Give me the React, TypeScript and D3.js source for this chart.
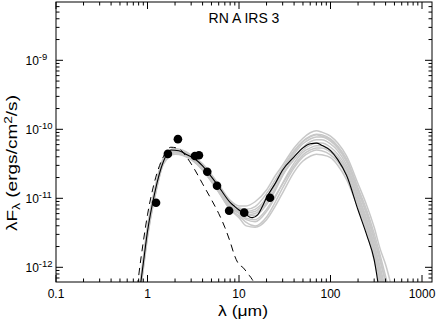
import React from "react";
import * as d3 from "d3";

// ---------------- data ----------------
const xTickValues = [0.1, 1, 10, 100, 1000];
const xTickLabels = ["0.1", "1", "10", "100", "1000"];
const yTickExponents = [-12, -11, -10, -9];
const yTickLabels = ["-12", "-11", "-10", "-9"];

// observed photometry (λ in µm, λFλ in ergs/cm²/s)
const obsLambda = [1.24, 1.67, 2.15, 3.3, 3.65, 4.5, 5.75, 7.8, 11.4, 21.8];
const obsFlux = [8.6e-12, 4.4e-11, 7.2e-11, 4.1e-11, 4.2e-11, 2.42e-11, 1.52e-11, 6.6e-12, 6.2e-12, 1.02e-11];

// best fit model (log10 λFλ)
const bestFitLambda = [0.8, 0.9, 1.0, 1.2, 1.5, 1.8, 2.2, 2.7, 3.3, 4, 5, 6, 7, 8, 9, 10, 11, 12, 13, 14, 16, 18, 20, 25, 30, 40, 50, 60, 70, 80, 100, 120, 150, 200, 250, 300, 350];
const bestFitLogFlux = [-12.46, -11.94, -11.48, -10.92, -10.46, -10.30, -10.31, -10.37, -10.43, -10.53, -10.69, -10.83, -10.96, -11.06, -11.12, -11.17, -11.21, -11.24, -11.27, -11.28, -11.24, -11.12, -10.99, -10.78, -10.59, -10.40, -10.27, -10.21, -10.20, -10.23, -10.31, -10.44, -10.67, -11.17, -11.54, -11.89, -12.46];

// stellar photosphere (dashed), log10 λFλ
const photoLambda = [0.75, 0.8, 0.9, 1.0, 1.2, 1.5, 1.8, 2.2, 2.7, 3.3, 4, 5, 6, 7, 8, 9, 10, 11, 12, 13, 14, 16];
const photoLogFlux = [-12.46, -12.13, -11.63, -11.24, -10.75, -10.39, -10.26, -10.28, -10.41, -10.59, -10.79, -11.02, -11.22, -11.42, -11.63, -11.84, -11.96, -12.00, -12.06, -12.12, -12.18, -12.35];

// other good fits (grey), log10 λFλ on a common grid
const gridLambda = [0.8, 0.9, 1.0, 1.2, 1.5, 2, 3, 4, 6, 8, 10, 12, 15, 20, 25, 30, 40, 50, 60, 70, 80, 100, 120, 150, 200, 250, 300, 350, 400, 500];
const grayFit1 = [-12.41, -11.86, -11.40, -10.86, -10.41, -10.28, -10.37, -10.50, -10.80, -11.03, -11.11, -11.11, -11.05, -10.88, -10.67, -10.52, -10.27, -10.13, -10.05, -10.02, -10.04, -10.10, -10.20, -10.39, -10.79, -11.11, -11.42, -11.74, -11.96, -12.46];
const grayFit2 = [-12.49, -11.97, -11.51, -10.95, -10.47, -10.33, -10.41, -10.56, -10.86, -11.09, -11.14, -11.16, -11.12, -10.93, -10.73, -10.56, -10.31, -10.17, -10.10, -10.07, -10.08, -10.14, -10.24, -10.43, -10.85, -11.18, -11.51, -11.83, -12.13, -12.72];
const grayFit3 = [-12.43, -11.92, -11.45, -10.90, -10.44, -10.30, -10.39, -10.53, -10.85, -11.09, -11.16, -11.21, -11.19, -11.02, -10.80, -10.62, -10.36, -10.21, -10.14, -10.11, -10.11, -10.17, -10.27, -10.47, -10.90, -11.25, -11.60, -11.92, -12.23, -12.82];
const grayFit4 = [-12.52, -12.00, -11.54, -10.98, -10.49, -10.34, -10.43, -10.57, -10.88, -11.12, -11.19, -11.25, -11.25, -11.09, -10.88, -10.67, -10.40, -10.26, -10.18, -10.15, -10.15, -10.21, -10.31, -10.52, -10.95, -11.31, -11.66, -12.00, -12.32, -12.90];
const grayFit5 = [-12.46, -11.94, -11.48, -10.93, -10.46, -10.31, -10.41, -10.56, -10.88, -11.14, -11.22, -11.31, -11.34, -11.19, -10.98, -10.78, -10.49, -10.33, -10.27, -10.24, -10.24, -10.30, -10.40, -10.59, -11.02, -11.38, -11.74, -12.10, -12.43, -13.04];
const grayFit6 = [-12.55, -12.03, -11.57, -10.99, -10.50, -10.36, -10.44, -10.59, -10.91, -11.16, -11.25, -11.35, -11.40, -11.27, -11.05, -10.85, -10.56, -10.40, -10.33, -10.30, -10.31, -10.37, -10.47, -10.67, -11.09, -11.45, -11.83, -12.20, -12.54, -13.11];
const grayFit7 = [-12.45, -11.93, -11.47, -10.92, -10.46, -10.33, -10.43, -10.59, -10.91, -11.16, -11.28, -11.40, -11.42, -11.31, -11.11, -10.92, -10.62, -10.46, -10.39, -10.36, -10.37, -10.41, -10.52, -10.73, -11.14, -11.51, -11.89, -12.29, -12.61, -13.18];
const grayFit8 = [-12.48, -11.96, -11.50, -10.93, -10.46, -10.31, -10.40, -10.54, -10.85, -11.08, -11.15, -11.19, -11.16, -10.99, -10.78, -10.59, -10.33, -10.18, -10.11, -10.08, -10.10, -10.15, -10.26, -10.46, -10.88, -11.22, -11.57, -11.89, -12.20, -12.78];
const grayFit9 = [-12.42, -11.90, -11.44, -10.89, -10.43, -10.30, -10.39, -10.53, -10.86, -11.11, -11.18, -11.24, -11.22, -11.06, -10.85, -10.66, -10.44, -10.30, -10.23, -10.20, -10.20, -10.26, -10.36, -10.56, -10.98, -11.34, -11.70, -12.06, -12.39, -12.97];
const grayFit10 = [-12.51, -11.99, -11.53, -10.96, -10.47, -10.34, -10.43, -10.57, -10.89, -11.14, -11.21, -11.29, -11.31, -11.16, -10.96, -10.79, -10.53, -10.37, -10.30, -10.27, -10.27, -10.33, -10.43, -10.63, -11.06, -11.42, -11.79, -12.15, -12.49, -13.07];
const grayFits = [grayFit1, grayFit2, grayFit3, grayFit4, grayFit5, grayFit6, grayFit7, grayFit8, grayFit9, grayFit10];

const titleText = "RN A IRS 3";

// ---------------- chart ----------------
const W = 436;
const H = 322;
const L = 56, R = 432, T = 2, B = 282;
const FONT = "'Liberation Sans', Arial, Helvetica, sans-serif";

export default function App() {
  const x = d3.scaleLog().domain([0.1, 1286]).range([L, R]);
  const y = d3.scaleLog().domain([Math.pow(10, -12.213), Math.pow(10, -8.155)]).range([B, T]);

  const line = d3
    .line<[number, number]>()
    .x((d) => x(d[0]))
    .y((d) => y(Math.pow(10, d[1])))
    .curve(d3.curveMonotoneX);

  const zip = (a: number[], b: number[]) => a.map((v, i) => [v, b[i]] as [number, number]);

  const [xd0, xd1] = x.domain();
  const xTicks: { v: number; major: boolean }[] = [];
  for (let e = -1; e <= 3; e++)
    for (let k = 1; k <= 9; k++) {
      const v = k * Math.pow(10, e);
      if (v >= xd0 * 0.9999 && v <= xd1) xTicks.push({ v, major: k === 1 });
    }
  const [yd0, yd1] = y.domain();
  const yTicks: { v: number; major: boolean }[] = [];
  for (let e = -13; e <= -9; e++)
    for (let k = 1; k <= 9; k++) {
      const v = k * Math.pow(10, e);
      if (v >= yd0 && v <= yd1) yTicks.push({ v, major: k === 1 });
    }

  const maj = 7;
  const min = 3.5;

  return (
    <svg width={W} height={H} style={{ position: "absolute", left: 0, top: 0, background: "#fff" }} fontFamily={FONT}>
      <defs>
        <clipPath id="plotclip">
          <rect x={L} y={T} width={R - L} height={B - T} />
        </clipPath>
      </defs>
      <rect x={0} y={0} width={W} height={H} fill="#fff" />
      <g clipPath="url(#plotclip)">
        {grayFits.map((g, i) => (
          <path key={i} d={line(zip(gridLambda, g)) || ""} fill="none" stroke="#c8c8c8" strokeWidth={1.5} />
        ))}
        <path d={line(zip(bestFitLambda, bestFitLogFlux)) || ""} fill="none" stroke="#000" strokeWidth={1.1} />
        <path d={line(zip(photoLambda, photoLogFlux)) || ""} fill="none" stroke="#000" strokeWidth={1} strokeDasharray="7,5" />
      </g>
      {obsLambda.map((l, i) => (
        <circle key={i} cx={x(l)} cy={y(obsFlux[i])} r={4.3} fill="#000" />
      ))}
      {/* frame */}
      <rect x={L} y={T} width={R - L} height={B - T} fill="none" stroke="#000" strokeWidth={1} />
      {/* x ticks bottom & top */}
      {xTicks.map((t, i) => {
        const px = x(t.v);
        const len = t.major ? maj : min;
        return (
          <g key={"xt" + i} stroke="#000" strokeWidth={1}>
            <line x1={px} x2={px} y1={B} y2={B - len} />
            <line x1={px} x2={px} y1={T} y2={T + len} />
          </g>
        );
      })}
      {yTicks.map((t, i) => {
        const py = y(t.v);
        const len = t.major ? maj : min;
        return (
          <g key={"yt" + i} stroke="#000" strokeWidth={1}>
            <line x1={L} x2={L + len} y1={py} y2={py} />
            <line x1={R} x2={R - len} y1={py} y2={py} />
          </g>
        );
      })}
      {xTickValues.map((v, i) => (
        <text key={"xl" + i} x={x(v)} y={298} fontSize={12} textAnchor="middle" fill="#000">
          {xTickLabels[i]}
        </text>
      ))}
      {yTickExponents.map((e, i) => (
        <text key={"yl" + i} x={25.5} y={y(Math.pow(10, e)) + 4.5} fontSize={12} fill="#000">
          10
          <tspan dy={-5} fontSize={9.5}>
            {yTickLabels[i]}
          </tspan>
        </text>
      ))}
      <text x={244} y={23} fontSize={14} textAnchor="middle" fill="#000">
        {titleText}
      </text>
      <text x={243} y={316} fontSize={14} textAnchor="middle" fill="#000" textLength={50} lengthAdjust="spacingAndGlyphs">
        λ (μm)
      </text>
      <text
        transform="translate(17,163) rotate(-90)"
        fontSize={14}
        textAnchor="middle"
        fill="#000"
        textLength={136}
        lengthAdjust="spacingAndGlyphs"
      >
        λF<tspan dy={3} fontSize={10}>λ</tspan>
        <tspan dy={-3}> (ergs/cm</tspan>
        <tspan dy={-5} fontSize={10}>2</tspan>
        <tspan dy={5}>/s)</tspan>
      </text>
    </svg>
  );
}
